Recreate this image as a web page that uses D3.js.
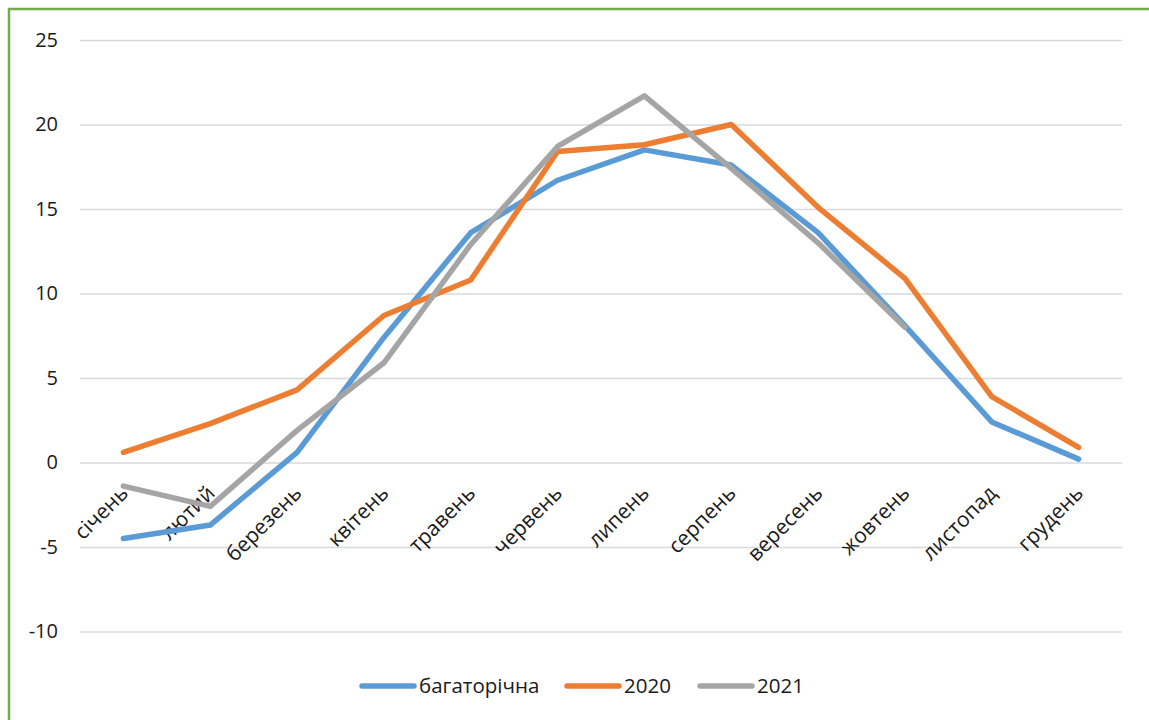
<!DOCTYPE html>
<html>
<head>
<meta charset="utf-8">
<script src="https://cdn.jsdelivr.net/npm/d3@7"></script>
<style>
  html, body { margin: 0; padding: 0; background: #fff; }
  svg { display: block; }
  text { font-family: "Open Sans", "Noto Sans", sans-serif; fill: #1a1a1a; }
</style>
</head>
<body>
<svg id="chart" width="1149" height="720"></svg>
<script>
// Monthly mean air temperature, °C
const months = ["січень", "лютий", "березень", "квітень", "травень", "червень",
                "липень", "серпень", "вересень", "жовтень", "листопад", "грудень"];
const longTerm = [-4.5, -3.7, 0.6, 7.4, 13.6, 16.7, 18.5, 17.6, 13.6, 8.1, 2.4, 0.2];
const year2020 = [0.6, 2.3, 4.3, 8.7, 10.8, 18.4, 18.8, 20.0, 15.1, 10.9, 3.9, 0.9];
const year2021 = [-1.4, -2.6, 1.9, 5.9, 12.9, 18.7, 21.7, 17.4, 13.0, 8.0, null, null];
const yTicks = [-10, -5, 0, 5, 10, 15, 20, 25];

const seriesNames = ["багаторічна", "2020", "2021"];
const seriesColors = ["#5B9BD5", "#ED7D31", "#A5A5A5"];
const seriesValues = [longTerm, year2020, year2021];

const svg = d3.select("#chart");

// outer frame
svg.append("rect")
  .attr("x", 9).attr("y", 9)
  .attr("width", 1300).attr("height", 900)
  .attr("fill", "none")
  .attr("stroke", "#70AD47")
  .attr("stroke-width", 2.5);

const plotLeft = 80, plotRight = 1122, plotTop = 40, plotBottom = 631.5;

const x = d3.scalePoint().domain(months).range([plotLeft, plotRight]).padding(0.5);
const y = d3.scaleLinear().domain([-10, 25]).range([plotBottom, plotTop]);

// horizontal gridlines + y labels
const yAxis = svg.append("g")
  .attr("transform", `translate(${plotLeft},0)`)
  .call(d3.axisLeft(y).tickValues(yTicks).tickSize(-(plotRight - plotLeft)).tickPadding(22).tickFormat(d => String(d)));
yAxis.select(".domain").remove();
yAxis.selectAll(".tick line").attr("stroke", "#D9D9D9").attr("stroke-width", 1.5);
yAxis.selectAll(".tick text")
  .style("font-size", "20px")
  .style("font-family", "'Open Sans', sans-serif")
  .attr("fill", "#1a1a1a");

// month labels, rotated, hanging just below the zero line
svg.append("g").selectAll("text")
  .data(months)
  .join("text")
  .attr("transform", d => `translate(${x(d) + 6},${y(0) + 32}) rotate(-45)`)
  .attr("text-anchor", "end")
  .style("font-size", "21px")
  .text(d => d);

// series lines
const line = d3.line()
  .defined(d => d.v !== null)
  .x(d => x(d.m))
  .y(d => y(d.v));

seriesValues.forEach((vals, i) => {
  svg.append("path")
    .datum(months.map((m, j) => ({ m, v: vals[j] })))
    .attr("fill", "none")
    .attr("stroke", seriesColors[i])
    .attr("stroke-width", 5.5)
    .attr("stroke-linejoin", "round")
    .attr("stroke-linecap", "round")
    .attr("d", line);
});

// legend
const legendY = 686;
const legendX = [362, 567, 700];
const legend = svg.append("g");
seriesNames.forEach((name, i) => {
  const g = legend.append("g").attr("transform", `translate(${legendX[i]},${legendY})`);
  g.append("line")
    .attr("x1", 0).attr("x2", 52)
    .attr("y1", 0).attr("y2", 0)
    .attr("stroke", seriesColors[i])
    .attr("stroke-width", 5.5)
    .attr("stroke-linecap", "round");
  g.append("text")
    .attr("x", 57).attr("y", 0)
    .attr("dy", "0.35em")
    .style("font-size", "20.5px")
    .text(name);
});
</script>
</body>
</html>
